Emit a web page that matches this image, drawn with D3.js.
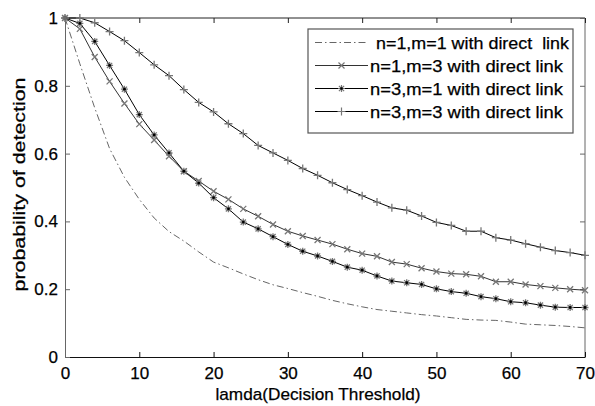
<!DOCTYPE html>
<html>
<head>
<meta charset="utf-8">
<script src="https://cdn.jsdelivr.net/npm/d3@7"></script>
<style>
    body { margin: 0; background: #fff; }
    text { font-family: Arial, "Liberation Sans", sans-serif; fill: #000; stroke: #000; stroke-width: 0.25px; }
</style>
</head>
<body>
<script>
// lamda values, every 2 units from 0 to 70
let lamda = d3.range(0, 72, 2);

let seriesNames = [
    "n=1,m=1 with direct  link",
    "n=1,m=3 with direct link",
    "n=3,m=1 with direct link",
    "n=3,m=3 with direct link"
];

let n1m1 = [1, 0.865, 0.735, 0.615, 0.53, 0.465, 0.41, 0.37, 0.342, 0.31, 0.28, 0.263, 0.245, 0.228, 0.213, 0.202,
    0.19, 0.179, 0.167, 0.157, 0.148, 0.14, 0.135, 0.13, 0.125, 0.121, 0.116, 0.111, 0.109, 0.108, 0.103, 0.097,
    0.095, 0.093, 0.09, 0.086];
let n1m3 = [1, 0.968, 0.885, 0.813, 0.748, 0.687, 0.64, 0.592, 0.548, 0.519, 0.489, 0.465, 0.437, 0.415, 0.391, 0.371,
    0.357, 0.345, 0.333, 0.318, 0.305, 0.297, 0.28, 0.274, 0.262, 0.252, 0.246, 0.244, 0.238, 0.222, 0.222, 0.214,
    0.209, 0.204, 0.2, 0.197];
let n3m1 = [1, 0.984, 0.931, 0.86, 0.79, 0.715, 0.655, 0.602, 0.548, 0.513, 0.47, 0.437, 0.398, 0.378, 0.355, 0.332,
    0.312, 0.298, 0.282, 0.265, 0.256, 0.239, 0.224, 0.219, 0.214, 0.201, 0.193, 0.188, 0.178, 0.172, 0.163, 0.16,
    0.153, 0.147, 0.146, 0.146];
let n3m3 = [1, 1.0, 0.986, 0.96, 0.933, 0.898, 0.862, 0.83, 0.789, 0.751, 0.723, 0.688, 0.659, 0.624, 0.602, 0.58,
    0.556, 0.536, 0.514, 0.494, 0.476, 0.457, 0.44, 0.433, 0.416, 0.397, 0.388, 0.371, 0.371, 0.352, 0.345, 0.334,
    0.324, 0.314, 0.308, 0.3];

let xTicks = [0, 10, 20, 30, 40, 50, 60, 70];
let yTicks = [0, 0.2, 0.4, 0.6, 0.8, 1];

let markerPaths = {
    none: null,
    cross: "M-3,-3L3,3M-3,3L3,-3",
    star: "M-3.5,0H3.5M0,-3.5V3.5M-2.6,-2.6L2.6,2.6M-2.6,2.6L2.6,-2.6",
    plus: "M-4,0H4M0,-4V4"
};

let series = [
    {name: seriesNames[0], values: n1m1, line: "#666", dash: "7,3,1.5,3", marker: "none", markerColor: "#666"},
    {name: seriesNames[1], values: n1m3, line: "#333", dash: null, marker: "cross", markerColor: "#777"},
    {name: seriesNames[2], values: n3m1, line: "#000", dash: null, marker: "star", markerColor: "#777"},
    {name: seriesNames[3], values: n3m3, line: "#000", dash: null, marker: "plus", markerColor: "#777"}
];

let margin = {top: 18, right: 10, bottom: 49, left: 65},
    width = 595 - margin.left - margin.right,
    height = 406 - margin.top - margin.bottom;

let x = d3.scaleLinear().domain([0, 70]).range([0, width]);
let y = d3.scaleLinear().domain([0, 1]).range([height, 0]);

let svg = d3.select("body").append("svg")
    .attr("width", 595)
    .attr("height", 406)
    .append("g")
    .attr("transform", "translate(" + margin.left + "," + margin.top + ")");

// frame
svg.append("line").attr("x1", 0).attr("x2", width).attr("y1", 0).attr("y2", 0).attr("stroke", "#222");
svg.append("line").attr("x1", width).attr("x2", width).attr("y1", 0).attr("y2", height).attr("stroke", "#666");

// inner ticks on top and right
svg.append("g").attr("class", "top axis")
    .call(d3.axisTop(x).tickValues(xTicks).tickSize(-5).tickFormat(""))
    .call(function (g) { g.select(".domain").remove(); })
    .selectAll("line").attr("stroke", "#222");

svg.append("g").attr("class", "right axis")
    .attr("transform", "translate(" + width + ",0)")
    .call(d3.axisRight(y).tickValues(yTicks).tickSize(-5).tickFormat(""))
    .call(function (g) { g.select(".domain").remove(); })
    .selectAll("line").attr("stroke", "#666");

let xAxis = svg.append("g").attr("class", "x axis")
    .attr("transform", "translate(0," + height + ")")
    .call(d3.axisBottom(x).tickValues(xTicks).tickSize(-5).tickSizeOuter(0).tickPadding(10).tickFormat(d3.format("d")));
xAxis.select(".domain").attr("stroke", "#111");
xAxis.selectAll(".tick line").attr("stroke", "#111");
xAxis.selectAll("text").style("font-size", "17px").attr("fill", "#000");

let yAxis = svg.append("g").attr("class", "y axis")
    .call(d3.axisLeft(y).tickValues(yTicks).tickSize(-5).tickSizeOuter(0).tickPadding(7)
        .tickFormat(function (d) { return d === 0 || d === 1 ? d : d3.format(".1f")(d); }));
yAxis.select(".domain").attr("stroke", "#666");
yAxis.selectAll(".tick line").attr("stroke", "#666");
yAxis.selectAll("text").style("font-size", "17px").attr("fill", "#000");

// axis titles
svg.append("text")
    .attr("x", width / 2 - 7)
    .attr("y", height + 43)
    .style("text-anchor", "middle")
    .style("font-size", "17px")
    .attr("textLength", 205)
    .attr("lengthAdjust", "spacingAndGlyphs")
    .text("lamda(Decision Threshold)");

svg.append("text")
    .attr("transform", "translate(" + (-40) + "," + (height / 2 - 3) + ") rotate(-90)")
    .style("text-anchor", "middle")
    .style("font-size", "17px")
    .attr("textLength", 214)
    .attr("lengthAdjust", "spacingAndGlyphs")
    .text("probability of detection");

// lines
let line = d3.line()
    .x(function (d, i) { return x(lamda[i]); })
    .y(function (d) { return y(d); });

series.forEach(function (s) {
    svg.append("path")
        .datum(s.values)
        .attr("fill", "none")
        .attr("stroke", s.line)
        .attr("stroke-width", 1)
        .attr("stroke-dasharray", s.dash)
        .attr("d", line);

    if (s.marker === "none") return;

    let marks = svg.selectAll(".m-" + s.marker)
        .data(s.values)
        .enter().append("g")
        .attr("class", "m-" + s.marker)
        .attr("transform", function (d, i) {
            return "translate(" + x(lamda[i]) + "," + y(d) + ")";
        });

    marks.append("path")
        .attr("d", markerPaths[s.marker])
        .attr("stroke", s.markerColor)
        .attr("stroke-width", 1.3)
        .attr("fill", "none");

    if (s.marker === "star") {
        marks.append("circle").attr("r", 1.4).attr("fill", "#000");
    }
});

// legend
let legendBox = {x: 308 - margin.left, y: 29 - margin.top, w: 265, h: 104};
svg.append("rect")
    .attr("x", legendBox.x)
    .attr("y", legendBox.y)
    .attr("width", legendBox.w)
    .attr("height", legendBox.h)
    .attr("fill", "#fff")
    .attr("stroke", "#555")
    .attr("stroke-width", 1.2);

let legend = svg.selectAll(".legend")
    .data(series)
    .enter().append("g")
    .attr("class", "legend")
    .attr("transform", function (d, i) {
        return "translate(" + legendBox.x + "," + (legendBox.y + 13.5 + i * 23) + ")";
    });

legend.append("line")
    .attr("x1", 7)
    .attr("x2", 60)
    .attr("stroke", function (d) { return d.line; })
    .attr("stroke-dasharray", function (d) { return d.dash; });

legend.append("path")
    .attr("transform", "translate(33.5,0)")
    .attr("d", function (d) { return markerPaths[d.marker]; })
    .attr("stroke", function (d) { return d.markerColor; })
    .attr("stroke-width", 1.2)
    .attr("fill", "none");

legend.filter(function (d) { return d.marker === "star"; })
    .append("circle").attr("cx", 33.5).attr("r", 1.3).attr("fill", "#000");

legend.append("text")
    .attr("x", function (d, i) { return i === 0 ? 68 : 62; })
    .attr("y", 6)
    .style("font-size", "17px")
    .attr("textLength", 193)
    .attr("lengthAdjust", "spacingAndGlyphs")
    .attr("xml:space", "preserve")
    .style("white-space", "pre")
    .text(function (d) { return d.name; });
</script>
</body>
</html>
